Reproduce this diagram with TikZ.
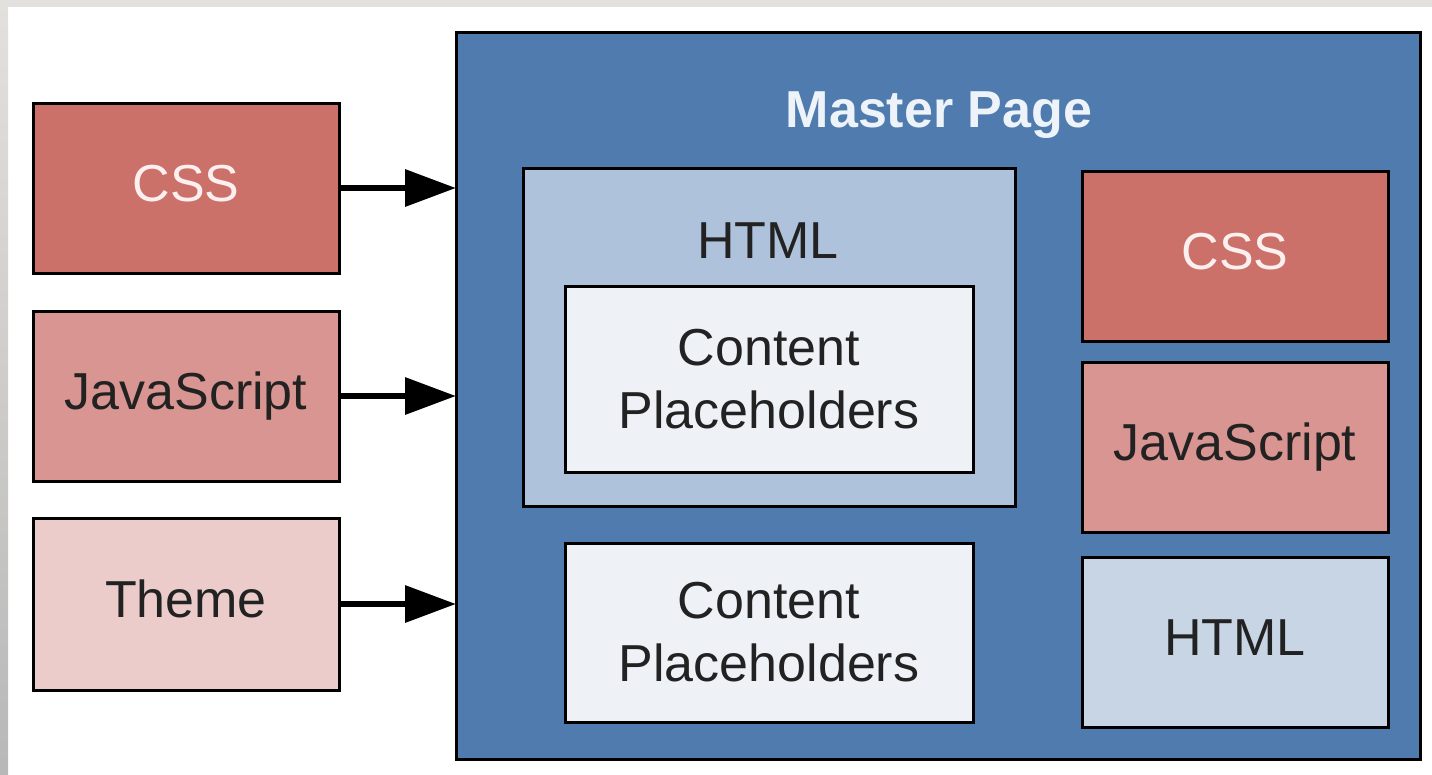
\documentclass[tikz,border=0pt]{standalone}
\usepackage{fontspec}
\setmainfont{Liberation Sans}
\usetikzlibrary{arrows.meta}
\definecolor{cssred}{HTML}{CC7169}
\definecolor{jspink}{HTML}{D99591}
\definecolor{themepink}{HTML}{EBCCCA}
\definecolor{masterblue}{HTML}{4F7BAE}
\definecolor{htmlouter}{HTML}{AFC2DB}
\definecolor{cpfill}{HTML}{EEF2F7}
\definecolor{htmlright}{HTML}{C8D5E5}
\definecolor{darktext}{HTML}{222222}
\definecolor{lighttext}{HTML}{FBF0EF}
\definecolor{titletext}{HTML}{EEF3F9}
\definecolor{stripgrey}{HTML}{E3E1DE}
\begin{document}
\begin{tikzpicture}[x=1pt,y=-1pt,
  bigfont/.style={font=\fontsize{52}{63}\selectfont},
  box/.style={draw=black, line width=3pt, inner sep=0pt, outer sep=0pt,
    minimum width=306pt, minimum height=170pt, bigfont, text=darktext,
    text height=39pt, text depth=13pt},
  cpbox/.style={draw=black, line width=3pt, inner sep=0pt, outer sep=0pt,
    minimum width=408pt, fill=cpfill, bigfont, text=darktext, align=center},
  arr/.style={line width=6.5pt, -{Triangle[length=51pt,width=36pt]}}]
\useasboundingbox (0,0) rectangle (1432,774);
\fill[white] (0,0) rectangle (1432,774);
\fill[stripgrey] (0,0) rectangle (1432,7);
\shade[top color=stripgrey, bottom color=black!28] (0,0) rectangle (8,774);

% left sources
\node[box, fill=cssred, text=lighttext] (cssL) at (186,188) {CSS};
\node[box, fill=jspink] (jsL) at (186,396) {JavaScript};
\node[box, fill=themepink, minimum height=172pt] (themeL) at (186,604) {Theme};

% master page
\node[draw=black, line width=3pt, fill=masterblue, inner sep=0pt, outer sep=0pt,
  minimum width=964pt, minimum height=727pt] (master) at (938,395.5) {};
\node[anchor=base, bigfont, text=titletext, inner sep=0pt] (title) at (939,127)
  {\bfseries Master Page};

% HTML with placeholders
\node[draw=black, line width=3pt, fill=htmlouter, inner sep=0pt, outer sep=0pt,
  minimum width=492pt, minimum height=338pt] (htmlO) at (769,337) {};
\node[anchor=base, bigfont, text=darktext, inner sep=0pt] (htmlOlabel) at (768,258) {HTML};
\node[cpbox, minimum height=186pt] (cp1) at (769,379) {Content\\Placeholders};
\node[cpbox, minimum height=179pt] (cp2) at (769,632.5) {Content\\Placeholders};

% right column
\node[box, fill=cssred, text=lighttext] (cssR) at (1235,256) {CSS};
\node[box, fill=jspink] (jsR) at (1235,447) {JavaScript};
\node[box, fill=htmlright] (htmlR) at (1235,642) {HTML};

% arrows
\draw[arr] (cssL.east) -- (cssL.east -| master.west);
\draw[arr] (jsL.east) -- (jsL.east -| master.west);
\draw[arr] (themeL.east) -- (themeL.east -| master.west);
\end{tikzpicture}
\end{document}
